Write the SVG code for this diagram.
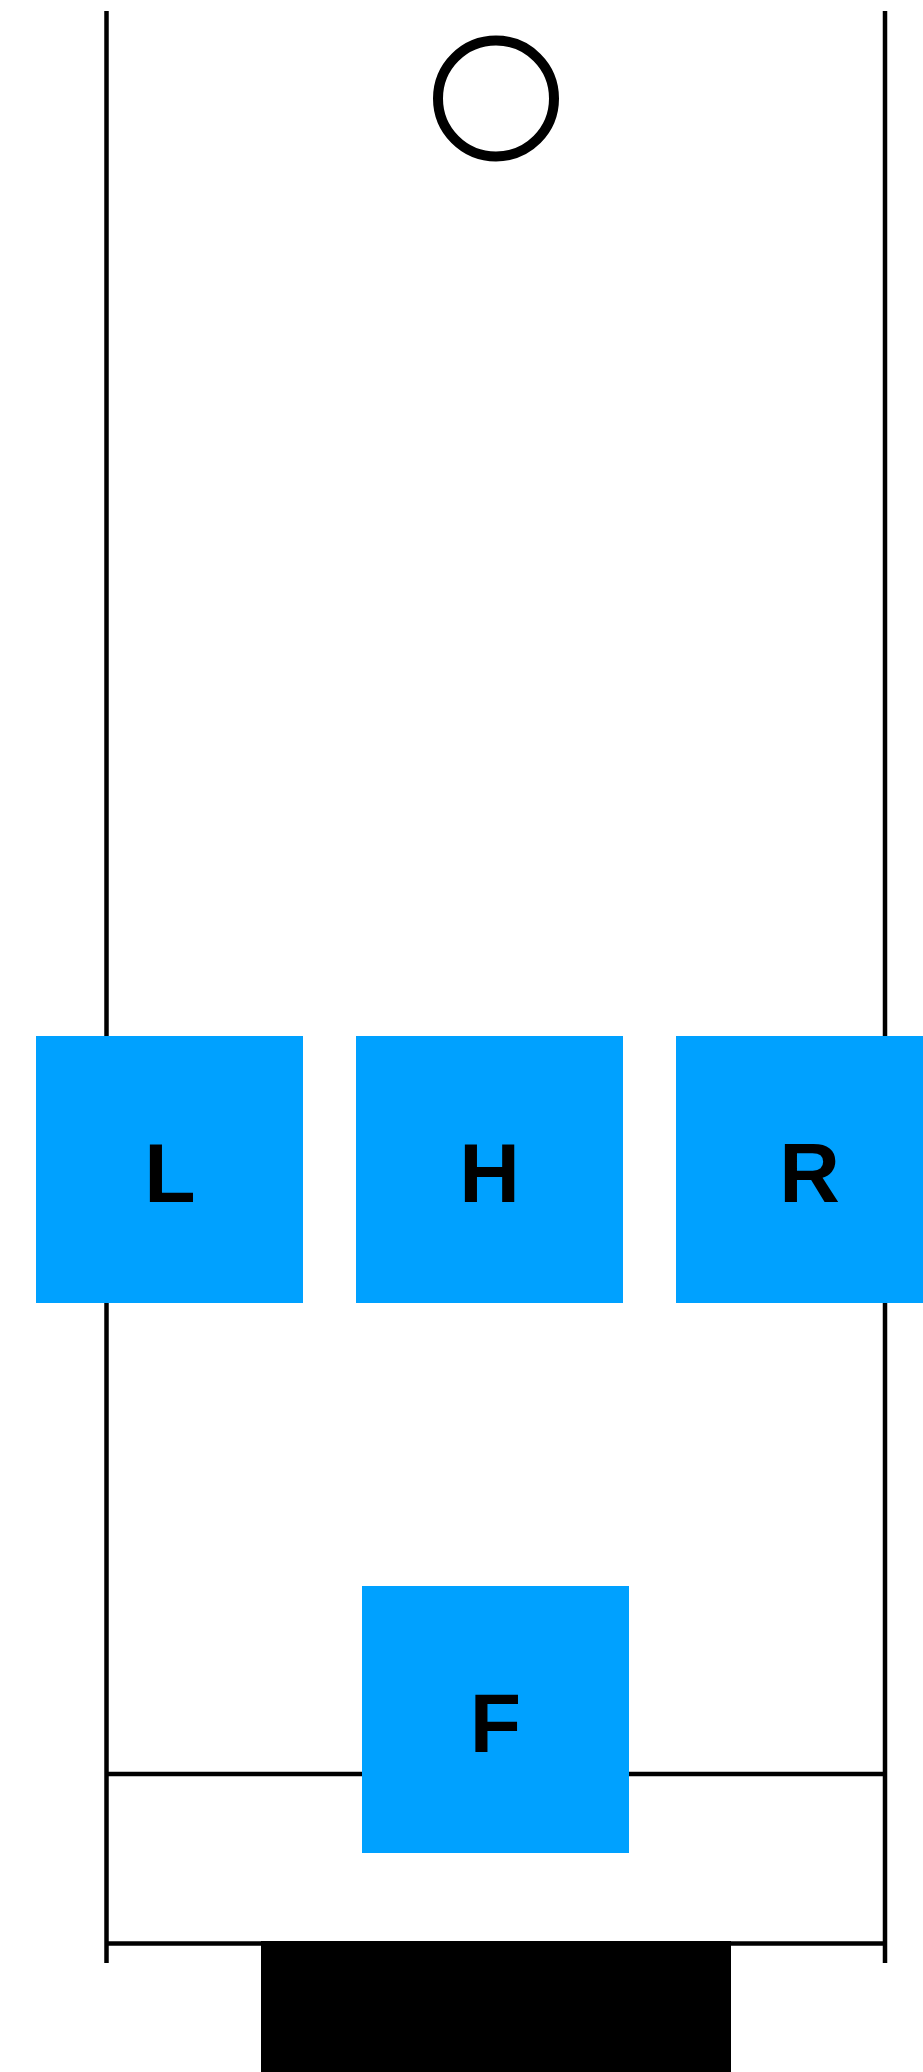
<svg xmlns="http://www.w3.org/2000/svg" width="923" height="2072" viewBox="0 0 923 2072">
<style>
.ln{stroke:#000;stroke-width:4.5;fill:none}
.box{fill:#00A1FF}
.lbl{font-family:"Liberation Sans",Arial,sans-serif;font-size:84px;font-weight:bold;fill:#000;text-anchor:middle}
</style>
<rect width="923" height="2072" fill="#fff"/>
<g id="connectors">
<line class="ln" x1="106.5" y1="11" x2="106.5" y2="1963"/>
<line class="ln" x1="885" y1="11" x2="885" y2="1963"/>
<line class="ln" x1="106.5" y1="1774" x2="885" y2="1774"/>
<line class="ln" x1="106.5" y1="1943.5" x2="885" y2="1943.5"/>
</g>
<g id="start"><circle cx="496" cy="98.5" r="58" fill="#fff" stroke="#000" stroke-width="10"/></g>
<g id="L"><rect class="box" x="36" y="1036" width="267" height="267"/><text class="lbl" x="170" y="1202">L</text></g>
<g id="H"><rect class="box" x="356" y="1036" width="267" height="267"/><text class="lbl" x="489.5" y="1202">H</text></g>
<g id="R"><rect class="box" x="676" y="1036" width="267" height="267"/><text class="lbl" x="809.5" y="1202">R</text></g>
<g id="F"><rect class="box" x="362" y="1586" width="267" height="267"/><text class="lbl" x="495.5" y="1752">F</text></g>
<g id="base"><rect x="261" y="1941" width="470" height="131" fill="#000"/></g>
</svg>
